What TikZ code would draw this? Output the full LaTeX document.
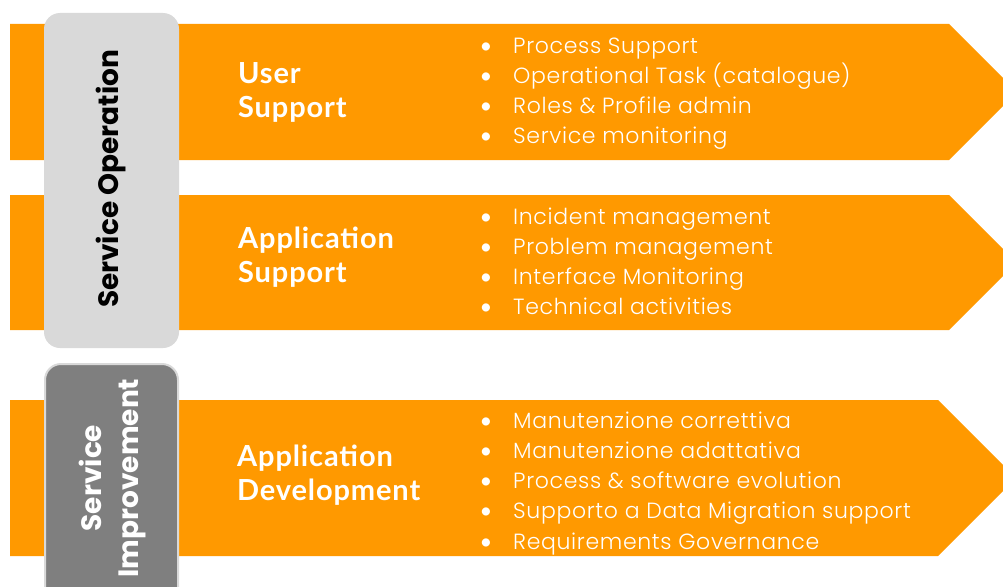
\documentclass[tikz,border=0pt]{standalone}
\usepackage{fontspec}
\setmainfont{Poppins}[UprightFont=* Light, LetterSpace=3]
\newfontfamily\headfont{Lato}[UprightFont=* Bold, LetterSpace=3]
\newfontfamily\dotfont{Lato}
\newfontfamily\sidefont{Poppins}[UprightFont=* Bold]
\definecolor{band}{HTML}{FF9900}
\definecolor{lightbox}{HTML}{D9D9D9}
\definecolor{darkbox}{HTML}{7F7F7F}
\tikzset{
  band/.style={fill=band},
  head/.style={anchor=base west, inner sep=0pt, text=white, font=\headfont\fontsize{29}{34}\selectfont},
  item/.style={anchor=base west, inner sep=0pt, text=white, font=\fontsize{22}{26}\selectfont},
  dot/.style={anchor=base, inner sep=0pt, text=white, font=\dotfont\fontsize{22}{26}\selectfont},
  side/.style={inner sep=0pt, rotate=90, align=center, font=\sidefont\fontsize{28}{37}\selectfont},
}
\begin{document}
\begin{tikzpicture}[x=1pt,y=-1pt]
\useasboundingbox (0,0) rectangle (1003,586);
\clip (0,0) rectangle (1003,586);

% three chevron bands
\fill[band] (10,24) -- (949,24) -- (1017,92) -- (949,160) -- (10,160) -- cycle;
\fill[band] (10,195) -- (949,195) -- (1016.5,262.5) -- (949,330) -- (10,330) -- cycle;
\fill[band] (10,400) -- (938,400) -- (1016,478) -- (938,556) -- (10,556) -- cycle;

% side labels
\fill[lightbox, rounded corners=16pt] (44,13) rectangle (179,348);
\draw[lightbox, fill=darkbox, line width=2pt, rounded corners=16pt] (45,364) rectangle (178,610);
\node[side, text=black] (op) at (111,179) {Service Operation};
\node[side, text=white] (imp) at (113,478) {Service\\Improvement};

% band headings
\node[head] (h1a) at (238,83) {User};
\node[head] (h1b) at (238,117) {Support};
\node[head] (h2a) at (238,248) {Application};
\node[head] (h2b) at (238,282) {Support};
\node[head] (h3a) at (237,466) {Application};
\node[head] (h3b) at (237,500) {Development};

% bullet lists
\foreach \t [count=\i] in {Process Support, Operational Task (catalogue), Roles \& Profile admin, Service monitoring} {
  \node[dot] (d1-\i) at (486,{53+30.3*(\i-1)}) {•};
  \node[item] (t1-\i) at (513,{53+30.3*(\i-1)}) {\t};
}
\foreach \t [count=\i] in {Incident management, Problem management, Interface Monitoring, Technical activities} {
  \node[dot] (d2-\i) at (486,{224+30.3*(\i-1)}) {•};
  \node[item] (t2-\i) at (513,{224+30.3*(\i-1)}) {\t};
}
\foreach \t [count=\i] in {Manutenzione correttiva, Manutenzione adattativa, Process \& software evolution, Supporto a Data Migration support, Requirements Governance} {
  \node[dot] (d3-\i) at (486,{428+30.3*(\i-1)}) {•};
  \node[item] (t3-\i) at (513,{428+30.3*(\i-1)}) {\t};
}
\end{tikzpicture}
\end{document}
